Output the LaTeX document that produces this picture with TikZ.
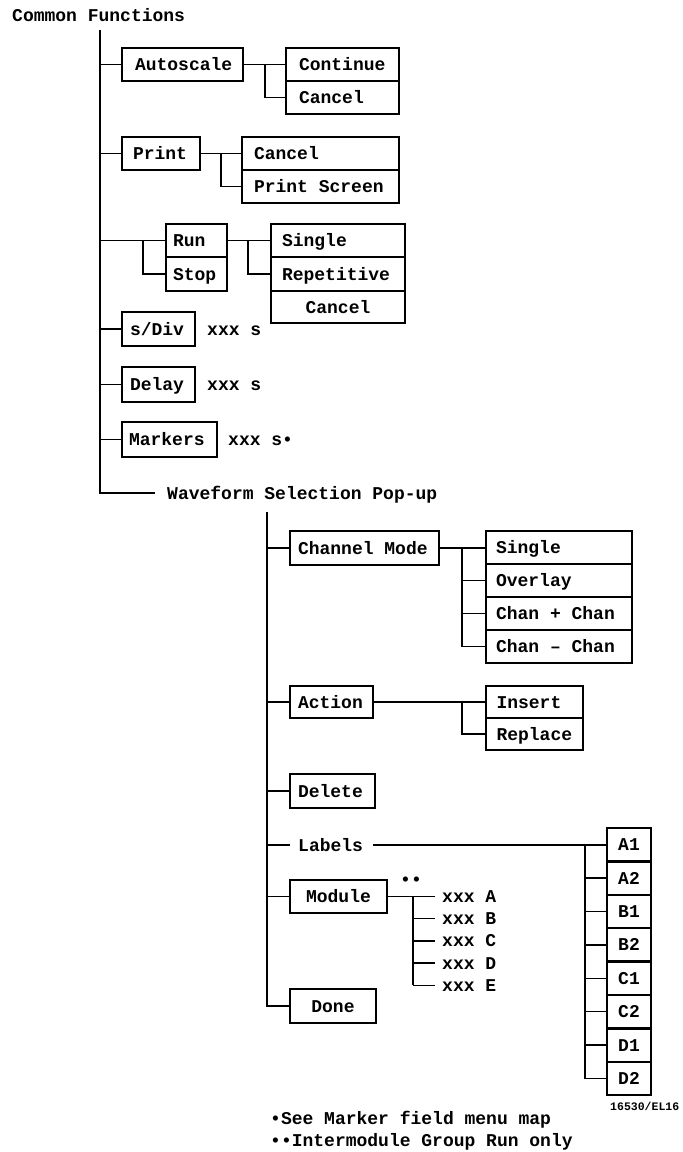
\documentclass[tikz,border=0pt]{standalone}
\usepackage{fontspec}
\newfontfamily\mf{Liberation Mono}
\newcommand\fntA{\mf\bfseries\fontsize{18}{20}\selectfont}
\newcommand\fntB{\mf\bfseries\fontsize{11.5}{13}\selectfont}
\newcommand\lft[2]{\makebox[#1pt][l]{#2}}
\newcommand\ctr[2]{\makebox[#1pt][c]{#2}}
\begin{document}
\begin{tikzpicture}[x=1pt,y=-1pt,
  bx/.style={draw, line width=2.3pt, font=\fntA, anchor=north west, inner ysep=0pt,
             text height=12pt, text depth=0pt, outer sep=0pt},
  cn/.style={line width=1.4pt},
  tx/.style={font=\fntA, anchor=west, inner sep=0pt, text height=12pt, text depth=0pt}]
\useasboundingbox (0,0) rectangle (683,1152);

% ---------- Common functions ----------
\node[tx] (title) at (12,15) {Common Functions};
\coordinate (t0) at (100,30);
\coordinate (t1) at (100,493);

\node[bx, minimum height=33pt, inner xsep=13pt] (auto) at (122,48) {\lft{95}{Autoscale}};
\node[bx, minimum height=33pt, inner xsep=13pt] (cont) at (286,48) {\lft{87}{Continue}};
\node[bx, minimum height=33pt, inner xsep=13pt] (canc1) at (286,81) {\lft{87}{Cancel}};

\node[bx, minimum height=33pt, inner xsep=11pt] (print) at (122,137) {\lft{56}{Print}};
\node[bx, minimum height=33pt, inner xsep=12pt] (pcanc) at (242,137) {\lft{133}{Cancel}};
\node[bx, minimum height=33pt, inner xsep=12pt] (pscr) at (242,170) {\lft{133}{Print Screen}};

\node[bx, minimum height=33pt, inner xsep=7pt] (run) at (166,224) {\lft{47}{Run}};
\node[bx, minimum height=34pt, inner xsep=7pt] (stop) at (166,257) {\lft{47}{Stop}};
\node[bx, minimum height=33pt, inner xsep=11pt] (sing) at (271,224) {\lft{112}{Single}};
\node[bx, minimum height=34pt, inner xsep=11pt] (rep) at (271,257) {\lft{112}{Repetitive}};
\node[bx, minimum height=32pt, inner xsep=11pt] (canc3) at (271,291) {\ctr{112}{Cancel}};

\node[bx, minimum height=34pt, inner xsep=8pt] (sdiv) at (122,312) {\lft{57}{s/Div}};
\node[bx, minimum height=35pt, inner xsep=8pt] (delay) at (122,367) {\lft{57}{Delay}};
\node[bx, minimum height=35pt, inner xsep=7pt] (mark) at (122,422) {\lft{81}{Markers}};
\node[tx] (xs1) at (207,329) {xxx s};
\node[tx] (xs2) at (207,384.5) {xxx s};
\node[tx] (xs3) at (228,439.5) {xxx s•};

\node[tx] (wave) at (167,493) {Waveform Selection Pop-up};
\coordinate (w1) at (155,493);

\draw[cn] (t0) -- (t1) -- (w1);
\draw[cn] (t0 |- auto.west) -- (auto.west);
\draw[cn] (t0 |- print.west) -- (print.west);
\draw[cn] (t0 |- run.west) -- (run.west);
\draw[cn] (t0 |- sdiv.west) -- (sdiv.west);
\draw[cn] (t0 |- delay.west) -- (delay.west);
\draw[cn] (t0 |- mark.west) -- (mark.west);

\coordinate (j1) at (265,0);
\draw[cn] (auto.east) -- (cont.west);
\draw[cn] (j1 |- auto.east) |- (canc1.west);
\coordinate (j2) at (221,0);
\draw[cn] (print.east) -- (pcanc.west);
\draw[cn] (j2 |- print.east) |- (pscr.west);
\coordinate (j3) at (143,0);
\draw[cn] (j3 |- run.west) |- (stop.west);
\coordinate (j4) at (248,0);
\draw[cn] (run.east) -- (sing.west);
\draw[cn] (j4 |- run.east) |- (rep.west);

% ---------- Waveform selection pop-up ----------
\coordinate (u0) at (267,512);

\node[bx, minimum height=34pt, inner xsep=8pt] (chm) at (290,531) {\lft{133}{Channel Mode}};
\node[bx, minimum height=33pt, inner xsep=10pt] (s2) at (486,531) {\lft{126}{Single}};
\node[bx, minimum height=33pt, inner xsep=10pt] (ov) at (486,564) {\lft{126}{Overlay}};
\node[bx, minimum height=33pt, inner xsep=10pt] (cpc) at (486,597) {\lft{126}{Chan + Chan}};
\node[bx, minimum height=33pt, inner xsep=10pt] (cmc) at (486,630) {\lft{126}{Chan – Chan}};

\node[bx, minimum height=32pt, inner xsep=8pt] (act) at (290,686) {\lft{67}{Action}};
\node[bx, minimum height=32pt, inner xsep=10.5pt] (ins) at (486,686) {\lft{76}{Insert}};
\node[bx, minimum height=32pt, inner xsep=10.5pt] (repl) at (486,718) {\lft{76}{Replace}};

\node[bx, minimum height=34pt, inner xsep=8pt] (del) at (290,774) {\lft{69}{Delete}};

\node[tx] (lbl) at (298,845) {Labels};
\foreach \n/\t [count=\k from 0] in {a1/A1,a2/A2,b1/B1,b2/B2,c1/C1,c2/C2,d1/D1,d2/D2}
  \node[bx, minimum height=33.4pt, inner xsep=5pt] (\n) at (607,828+33.4*\k) {\ctr{34}{\t}};

\node[bx, minimum height=33pt, inner xsep=8pt] (mod) at (290,880) {\ctr{81}{Module}};
\node[tx] (mst) at (400,879) {••};
\foreach \n/\t [count=\k from 0] in {xa/A,xb/B,xc/C,xd/D,xe/E}
  \node[tx] (\n) at (442,896.5+22.2*\k) {xxx \t};

\node[bx, minimum height=34pt, inner xsep=8pt] (done) at (290,989) {\ctr{70}{Done}};

\draw[cn] (u0) |- (done.west);
\draw[cn] (u0 |- chm.west) -- (chm.west);
\draw[cn] (u0 |- act.west) -- (act.west);
\draw[cn] (u0 |- del.west) -- (del.west);
\draw[cn] (u0 |- mod.west) -- (mod.west);
\draw[cn] (u0 |- lbl.west) -- ([xshift=-8pt]lbl.west);

\coordinate (k1) at (462,0);
\draw[cn] (chm.east) -- (chm.east -| s2.west);
\draw[cn] (k1 |- chm.east) |- (cmc.west);
\draw[cn] (k1 |- ov.west) -- (ov.west);
\draw[cn] (k1 |- cpc.west) -- (cpc.west);
\draw[cn] (act.east) -- (act.east -| ins.west);
\draw[cn] (k1 |- act.east) |- (repl.west);

\coordinate (k2) at (585,0);
\draw[cn] ([xshift=10pt]lbl.east) -- (lbl.east -| a1.west);
\draw[cn] (k2 |- a1.west) |- (d2.west);
\foreach \n in {a2,b1,b2,c1,c2,d1}
  \draw[cn] (k2 |- \n.west) -- (\n.west);

\coordinate (k3) at (413,0);
\draw[cn] (mod.east) -- ([xshift=-7pt]xa.west);
\draw[cn] (k3 |- xa.west) -- (k3 |- xe.west);
\foreach \n in {xb,xc,xd,xe}
  \draw[cn] (k3 |- \n.west) -- ([xshift=-7pt]\n.west);

% ---------- footer ----------
\node[tx, font=\fntB, text height=8pt] (fig) at (610,1106) {16530/EL16};
\node[tx] (fn1) at (270,1118) {•See Marker field menu map};
\node[tx] (fn2) at (270,1140) {••Intermodule Group Run only};
\end{tikzpicture}
\end{document}
